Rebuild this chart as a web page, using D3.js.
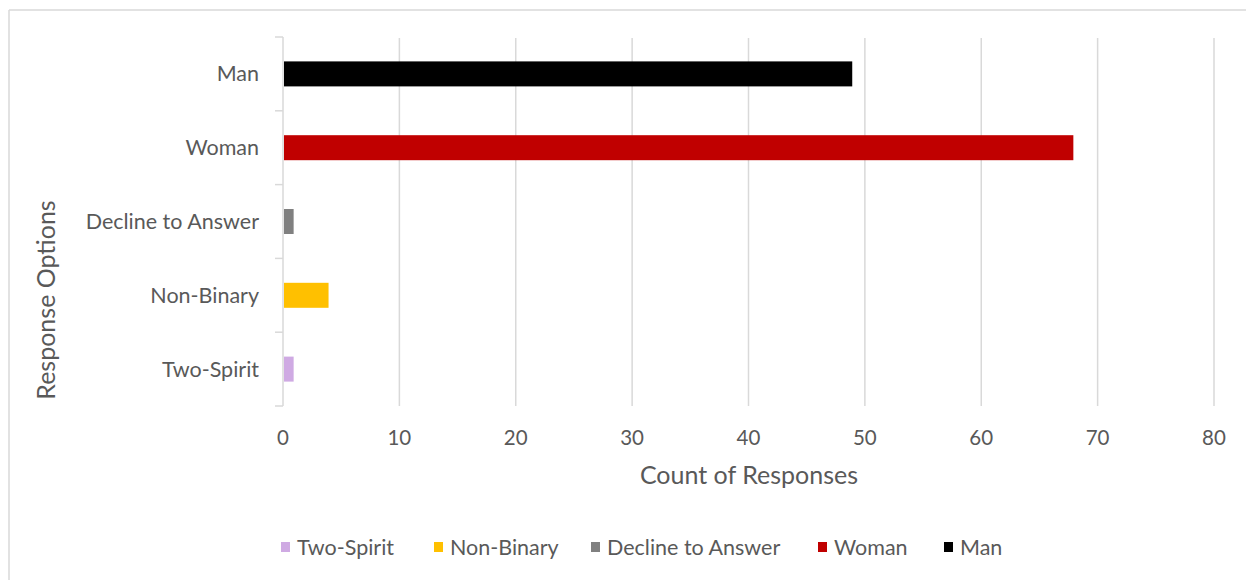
<!DOCTYPE html>
<html>
<head>
<meta charset="utf-8">
<script src="https://cdn.jsdelivr.net/npm/d3@7"></script>
<style>
  body { margin: 0; background: #fff; }
  svg { display: block; font-family: Lato, "Open Sans", sans-serif; }
</style>
</head>
<body>
<svg id="chart" width="1246" height="580"></svg>
<script>
// Data
const categories = ['Man', 'Woman', 'Decline to Answer', 'Non-Binary', 'Two-Spirit'];
const counts = [49, 68, 1, 4, 1];
const colors = ['#000000', '#c00000', '#808080', '#ffc000', '#cfaae3'];
const xTicks = [0, 10, 20, 30, 40, 50, 60, 70, 80];
const legendOrder = ['Two-Spirit', 'Non-Binary', 'Decline to Answer', 'Woman', 'Man'];

const svg = d3.select('#chart');
const width = 1246, height = 580;
const margin = { top: 37, right: 31, bottom: 174, left: 283 };
const innerHeight = height - margin.top - margin.bottom;
const textColor = '#595959';
const gridColor = '#d9d9d9';

// chart frame: only its top and left edges fall inside the picture
svg.append('line')
  .attr('x1', 9).attr('x2', width).attr('y1', 10).attr('y2', 10)
  .attr('stroke', gridColor).attr('stroke-width', 1.5);
svg.append('line')
  .attr('x1', 9).attr('x2', 9).attr('y1', 10).attr('y2', height)
  .attr('stroke', gridColor).attr('stroke-width', 1.5);

const x = d3.scaleLinear().domain([0, 80]).range([0, 931]);
const yCat = d3.scaleBand().domain(categories).range([0, innerHeight]);

const g = svg.append('g').attr('transform', `translate(${margin.left},${margin.top})`);

// gridlines
g.selectAll('.grid')
  .data(xTicks.slice(1))
  .join('line')
  .attr('x1', d => x(d)).attr('x2', d => x(d))
  .attr('y1', 1).attr('y2', innerHeight)
  .attr('stroke', gridColor)
  .attr('stroke-width', 1.5);

// bars
const data = categories.map((c, i) => ({ name: c, value: counts[i], color: colors[i] }));
g.selectAll('.bar')
  .data(data)
  .join('rect')
  .attr('x', x(0) + 1)
  .attr('y', d => yCat(d.name) + (yCat.bandwidth() - 25) / 2)
  .attr('width', d => x(d.value) - x(0) - 2)
  .attr('height', 25)
  .attr('fill', d => d.color);

// y axis line and ticks
g.append('line')
  .attr('x1', 0).attr('x2', 0)
  .attr('y1', 0).attr('y2', innerHeight)
  .attr('stroke', gridColor).attr('stroke-width', 1.5);
g.selectAll('.ytick')
  .data(d3.range(categories.length + 1))
  .join('line')
  .attr('x1', -8).attr('x2', 0)
  .attr('y1', d => d * yCat.step()).attr('y2', d => d * yCat.step())
  .attr('stroke', gridColor).attr('stroke-width', 1.5);

// category labels
g.selectAll('.ylabel')
  .data(categories)
  .join('text')
  .attr('x', -24)
  .attr('y', d => yCat(d) + yCat.bandwidth() / 2)
  .attr('dy', '0.35em')
  .attr('text-anchor', 'end')
  .attr('fill', textColor)
  .attr('font-size', 21.5)
  .text(d => d);

// x tick labels
g.selectAll('.xlabel')
  .data(xTicks)
  .join('text')
  .attr('x', d => x(d))
  .attr('y', innerHeight + 39)
  .attr('text-anchor', 'middle')
  .attr('fill', textColor)
  .attr('font-size', 20.5)
  .text(d => d);

// axis titles
svg.append('text')
  .attr('x', 749).attr('y', 484)
  .attr('text-anchor', 'middle')
  .attr('fill', textColor)
  .attr('font-size', 25)
  .text('Count of Responses');

svg.append('text')
  .attr('transform', 'translate(55,300) rotate(-90)')
  .attr('text-anchor', 'middle')
  .attr('fill', textColor)
  .attr('font-size', 25)
  .text('Response Options');

// legend
const legendX = [281, 434, 591, 818, 944];
const legend = svg.append('g');
legendOrder.forEach((name, i) => {
  const item = legend.append('g').attr('transform', `translate(${legendX[i]},547)`);
  item.append('rect')
    .attr('x', 0).attr('y', -5)
    .attr('width', 9).attr('height', 10)
    .attr('fill', colors[categories.indexOf(name)]);
  item.append('text')
    .attr('x', 16).attr('y', 0)
    .attr('dy', '0.35em')
    .attr('fill', textColor)
    .attr('font-size', 21.5)
    .text(name);
});
</script>
</body>
</html>
